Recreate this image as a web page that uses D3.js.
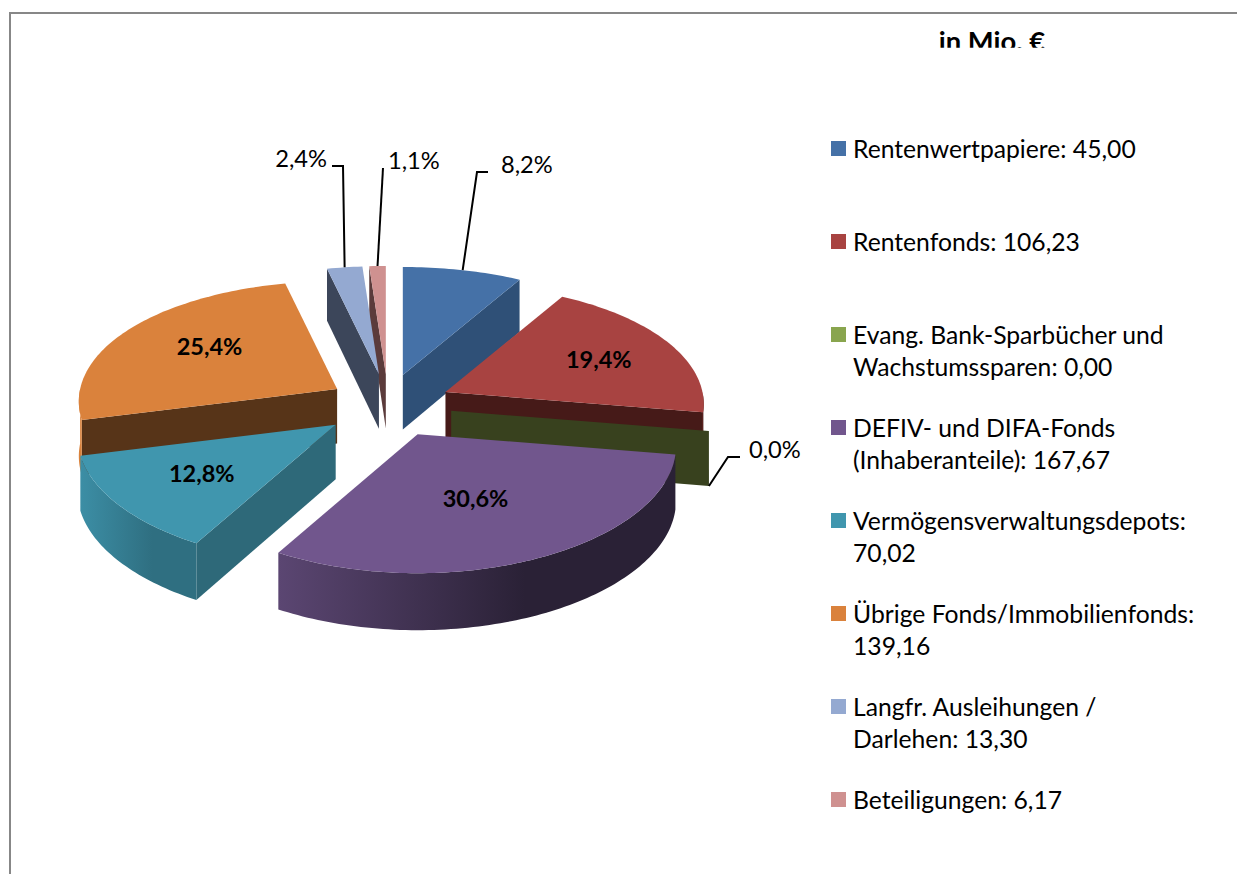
<!DOCTYPE html>
<html>
<head>
<meta charset="utf-8">
<script src="https://cdn.jsdelivr.net/npm/d3@7"></script>
<style>
  html, body { margin: 0; padding: 0; background: #fff; overflow: hidden; }
  text { font-family: Lato, "Open Sans", sans-serif; fill: #000; }
</style>
</head>
<body>
<div id="chart"></div>
<script>
const width = 1237;
const height = 874;

const categories = [
  "Rentenwertpapiere", "Rentenfonds", "Evang. Bank-Sparbücher und\nWachstumssparen",
  "DEFIV- und DIFA-Fonds\n(Inhaberanteile)", "Vermögensverwaltungsdepots",
  "Übrige Fonds/Immobilienfonds", "Langfr. Ausleihungen /\nDarlehen", "Beteiligungen"
];
const values = [45.00, 106.23, 0.00, 167.67, 70.02, 139.16, 13.30, 6.17];
const valueOnNewLine = new Set(["Vermögensverwaltungsdepots", "Übrige Fonds/Immobilienfonds"]);
const topColors = ["#4571A7", "#A84341", "#89A54E", "#71568D", "#4096AE", "#DA823C", "#94A9D1", "#CF9190"];
const sideColors = ["#2F5077", "#461A18", "#38411E", "#3A2C4A", "#2E6979", "#573418", "#3C465A", "#5B3B3B"];
const rimLeft = ["#2F5077", "#6A2725", "#38411E", "#5B4672", "#3C8EA5", "#D9823C", "#3C465A", "#5B3B3B"];
const rimRight = ["#2F5077", "#461A18", "#38411E", "#2A2136", "#2F6F81", "#D9823C", "#3C465A", "#5B3B3B"];

// Where the labels go: inside ones as share of the radius, outside ones with a leader
const insideLabels = new Map([[1, { r: 0.68, dy: 3 }], [3, { r: 0.5, dy: 8 }], [4, { r: 0.63, dy: 1 }], [5, { r: 0.6, dy: -4 }]]);
const outsideLabels = new Map([
  [0, { elbow: [477, 172], end: [488, 172], text: [501, 173], anchor: "start" }],
  [2, { elbow: [728, 457], end: [740, 457], text: [749, 458], anchor: "start" }],
  [6, { elbow: [343, 166], end: [332, 166], text: [327, 167], anchor: "end" }],
  [7, { elbow: [383, 168], end: [383, 168], text: [388, 169], anchor: "start" }]
]);

// Pie geometry
const center = { x: 388, y: 405.6 };
const explode = { x: 62, y: 31.6 };
const tipNudge = [-1, 1.5, 2, 3, -3, 2, 0, 0];
const rx = 257, ry = 121.6, perspX = 0.1, perspY = 0.1255;

const de = d3.formatLocale({ decimal: ",", thousands: ".", grouping: [3], currency: ["", "€"] });
const fmtValue = de.format(".2f");
const fmtPct = de.format(".1%");
const total = d3.sum(values);

const svg = d3.select("#chart").append("svg")
  .attr("width", width)
  .attr("height", height)
  .style("display", "block");

// Chart frame, top and left edges only
svg.append("path")
  .attr("d", `M${width},13H10V${height}`)
  .attr("fill", "none")
  .attr("stroke", "#878787")
  .attr("stroke-width", 2);

// Title is cut off by the chart area in the original
const defs = svg.append("defs");
defs.append("clipPath").attr("id", "title-clip")
  .append("rect").attr("x", 900).attr("y", 14).attr("width", 200).attr("height", 33.7);
svg.append("text")
  .attr("clip-path", "url(#title-clip)")
  .attr("x", 992).attr("y", 51)
  .attr("text-anchor", "middle")
  .attr("font-size", 27.4)
  .attr("font-weight", 700)
  .text("in Mio. €");

// Perspective: a point on the pie plane relative to the slice tip
function project(angle, r) {
  const u = r * Math.sin(angle), v = -r * Math.cos(angle);
  return [rx * u / (1 - perspX * v), ry * v / (1 - perspY * v)];
}
const depthAt = (angle, r) => 54.5 - 2.5 * r * Math.cos(angle);

const line = d3.line();
const arcs = d3.pie().sort(null).value(d => d)(values).map(a => {
  const mid = (a.startAngle + a.endAngle) / 2;
  const tip = [center.x + explode.x * Math.sin(mid) + tipNudge[a.index], center.y - explode.y * Math.cos(mid)];
  return { ...a, mid, tip };
});

function rimPoints(a, from, to) {
  const n = Math.max(1, Math.ceil((to - from) / 0.02));
  return d3.range(n + 1).map(i => {
    const t = from + (to - from) * i / n;
    const p = project(t, 1);
    return [a.tip[0] + p[0], a.tip[1] + p[1], t];
  });
}

function radialFace(a, angle) {
  const p = project(angle, 1);
  const x = a.tip[0] + p[0], y = a.tip[1] + p[1];
  return line([[a.tip[0], a.tip[1]], [x, y], [x, y + depthAt(angle, 1)], [a.tip[0], a.tip[1] + depthAt(angle, 0)]]) + "Z";
}

// Back to front by tip position
const order = arcs.slice().sort((p, q) => p.tip[1] - q.tip[1]);
const slices = svg.append("g").selectAll("g").data(order).join("g");

slices.each(function (a) {
  const g = d3.select(this);
  const i = a.index;
  // radial walls facing the viewer
  if (Math.sin(a.startAngle) < -1e-6 && a.endAngle > a.startAngle) {
    g.append("path").attr("d", radialFace(a, a.startAngle)).attr("fill", sideColors[i]);
  }
  if (Math.sin(a.endAngle) > 1e-6) {
    g.append("path").attr("d", radialFace(a, a.endAngle)).attr("fill", sideColors[i]);
  }
  // outer wall, only the front half of the ellipse shows
  const from = Math.max(a.startAngle, Math.PI / 2), to = Math.min(a.endAngle, Math.PI * 1.5);
  if (to > from) {
    const pts = rimPoints(a, from, to);
    const bottom = pts.slice().reverse().map(p => [p[0], p[1] + depthAt(p[2], 1)]);
    const xr = d3.extent(pts, p => p[0]);
    const gradId = `rim-${i}`;
    const grad = defs.append("linearGradient").attr("id", gradId)
      .attr("gradientUnits", "userSpaceOnUse")
      .attr("x1", xr[0]).attr("x2", xr[1]).attr("y1", 0).attr("y2", 0);
    grad.append("stop").attr("offset", 0).attr("stop-color", rimLeft[i]);
    grad.append("stop").attr("offset", 0.62).attr("stop-color", rimRight[i]);
    g.append("path")
      .attr("d", line(pts.map(p => [p[0], p[1]]).concat(bottom)) + "Z")
      .attr("fill", `url(#${gradId})`);
  }
  // top face
  if (a.endAngle > a.startAngle) {
    const top = [[a.tip[0], a.tip[1]]].concat(rimPoints(a, a.startAngle, a.endAngle).map(p => [p[0], p[1]]));
    g.append("path").attr("d", line(top) + "Z").attr("fill", topColors[i]);
  }
});

// Percent labels
const pctText = d => fmtPct(d.value / total);

svg.append("g").selectAll("text")
  .data(arcs.filter(a => insideLabels.has(a.index)))
  .join("text")
  .attr("x", a => a.tip[0] + project(a.mid, insideLabels.get(a.index).r)[0])
  .attr("y", a => a.tip[1] + project(a.mid, insideLabels.get(a.index).r)[1] + insideLabels.get(a.index).dy + 7)
  .attr("text-anchor", "middle")
  .attr("font-size", 23.5)
  .attr("font-weight", 700)
  .text(pctText);

const outside = arcs.filter(a => outsideLabels.has(a.index));

svg.append("g").selectAll("path")
  .data(outside)
  .join("path")
  .attr("fill", "none")
  .attr("stroke", "#000")
  .attr("stroke-width", 2)
  .attr("d", a => {
    const cfg = outsideLabels.get(a.index);
    const p = project(a.mid, 1);
    const lift = a.value === 0 ? depthAt(a.mid, 1) : 0;
    return line([[a.tip[0] + p[0], a.tip[1] + p[1] + lift], cfg.elbow, cfg.end]);
  });

svg.append("g").selectAll("text")
  .data(outside)
  .join("text")
  .attr("x", a => outsideLabels.get(a.index).text[0])
  .attr("y", a => outsideLabels.get(a.index).text[1])
  .attr("text-anchor", a => outsideLabels.get(a.index).anchor)
  .attr("font-size", 23.7)
  .text(pctText);

// Legend
const legendY = d3.scalePoint().domain(d3.range(categories.length)).range([148.5, 799.5]);
const legendRows = svg.append("g").selectAll("g")
  .data(categories)
  .join("g")
  .attr("transform", (d, i) => `translate(831,${legendY(i)})`);

legendRows.append("rect")
  .attr("y", -7.5)
  .attr("width", 15)
  .attr("height", 15)
  .attr("fill", (d, i) => topColors[i]);

legendRows.each(function (d, i) {
  const label = d + ":" + (valueOnNewLine.has(d) ? "\n" : " ") + fmtValue(values[i]);
  d3.select(this).selectAll("text")
    .data(label.split("\n"))
    .join("text")
    .attr("x", 22)
    .attr("y", (t, k) => 9 + k * 32)
    .attr("font-size", 24.7)
    .text(t => t);
});
</script>
</body>
</html>
